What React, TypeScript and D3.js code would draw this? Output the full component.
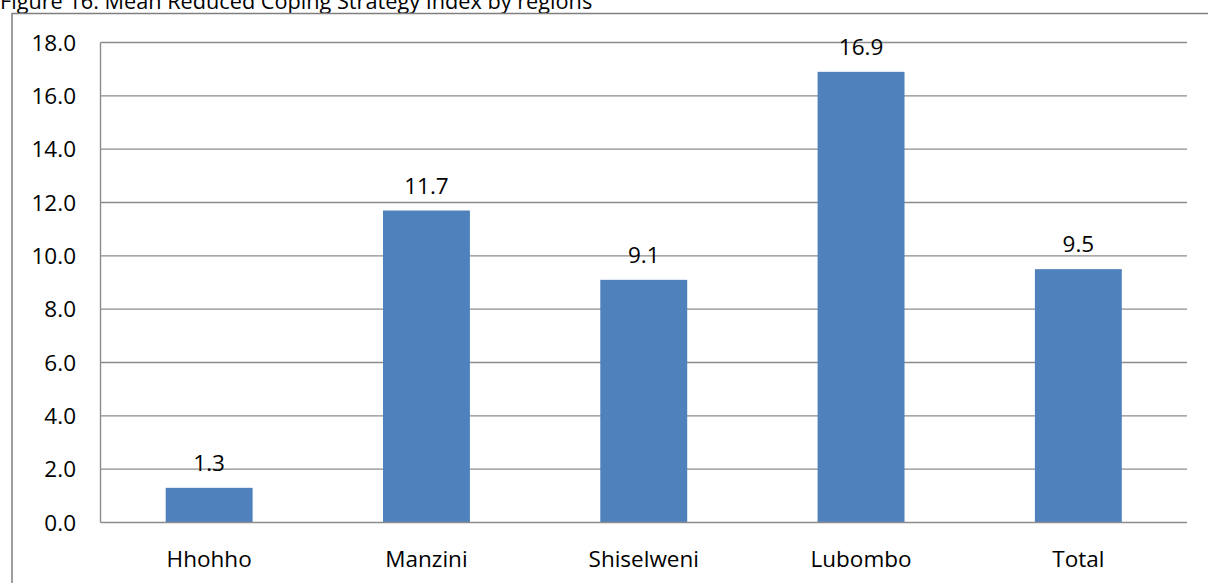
import React from "react";
import * as d3 from "d3";

const categories = ["Hhohho", "Manzini", "Shiselweni", "Lubombo", "Total"];
const values = [1.3, 11.7, 9.1, 16.9, 9.5];
const yTicks = [0, 2, 4, 6, 8, 10, 12, 14, 16, 18];
const title = "Figure 16: Mean Reduced Coping Strategy Index by regions";

const W = 1208;
const H = 583;
const plot = { left: 100.5, right: 1187, top: 42.5, bottom: 522.5 };
const FONT = "'Open Sans', 'Noto Sans', sans-serif";
const GRID = "#8c8c8c";
const BAR = "#4F81BD";

export default function App() {
  const x = d3
    .scaleBand<string>()
    .domain(categories)
    .range([plot.left, plot.right])
    .paddingInner(0.6)
    .paddingOuter(0.3);
  const y = d3.scaleLinear().domain([0, 18]).range([plot.bottom, plot.top]);
  const fmt = d3.format(".1f");

  return (
    <svg
      width={W}
      height={H}
      style={{ position: "absolute", left: 0, top: 0, background: "#fff" }}
      fontFamily={FONT}
    >
      <rect x={0} y={0} width={W} height={H} fill="#fff" />
      <text x={0} y={8.5} fontSize={21.7} fill="#000">
        {title}
      </text>
      <rect x={12} y={13.5} width={W + 20} height={H + 20} fill="none" stroke="#7f7f7f" strokeWidth={1.5} />
      {yTicks.map((t) => (
        <g key={t}>
          {t > 0 && (
            <line x1={plot.left} x2={plot.right} y1={y(t)} y2={y(t)} stroke={GRID} strokeWidth={1.4} />
          )}
          <text
            x={76}
            y={y(t) + 8}
            textAnchor="end"
            fontSize={22.5}
            fill="#000"
          >
            {fmt(t)}
          </text>
        </g>
      ))}
      <line x1={plot.left} x2={plot.left} y1={plot.top} y2={plot.bottom} stroke={GRID} strokeWidth={1.4} />
      {categories.map((c, i) => (
        <g key={c}>
          <rect
            x={x(c)!}
            y={y(values[i])}
            width={x.bandwidth()}
            height={y(0) - y(values[i])}
            fill={BAR}
          />
          <text
            x={x(c)! + x.bandwidth() / 2}
            y={y(values[i]) - 17}
            textAnchor="middle"
            fontSize={22.5}
            fill="#000"
          >
            {fmt(values[i])}
          </text>
          <text
            x={x(c)! + x.bandwidth() / 2}
            y={567}
            textAnchor="middle"
            fontSize={22.5}
            fill="#000"
          >
            {c}
          </text>
        </g>
      ))}
      <line x1={plot.left} x2={plot.right} y1={plot.bottom} y2={plot.bottom} stroke={GRID} strokeWidth={1.4} />
    </svg>
  );
}
